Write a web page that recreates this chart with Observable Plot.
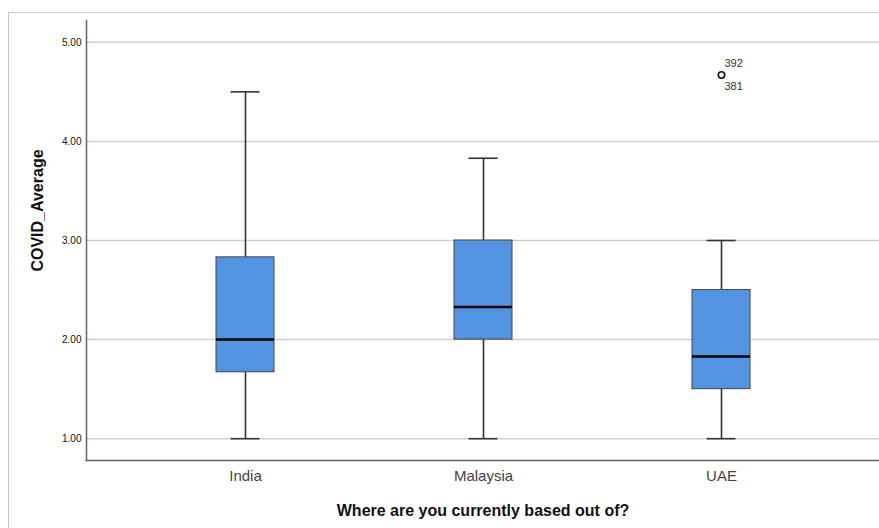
<!DOCTYPE html>
<html>
<head>
<meta charset="utf-8">
<script src="https://cdn.jsdelivr.net/npm/d3@7"></script>
<script src="https://cdn.jsdelivr.net/npm/@observablehq/plot@0.6"></script>
<style>
  html, body { margin: 0; padding: 0; background: #fff; overflow: hidden; }
  #wrap { position: relative; width: 879px; height: 528px; }
  #border { position: absolute; left: 8px; top: 12px; width: 900px; height: 600px; border: 1px solid #c8c8c8; box-sizing: border-box; }
  #chart { position: absolute; left: 0; top: 0; }
  svg text { font-family: "Liberation Sans", Arial, sans-serif; }
</style>
</head>
<body>
<div id="wrap"><div id="border"></div><div id="chart"></div></div>
<script>
const countries = ["India", "Malaysia", "UAE"];
const whiskerLow = [1.00, 1.00, 1.00];
const q1 = [1.67, 2.00, 1.50];
const median = [2.00, 2.33, 1.83];
const q3 = [2.83, 3.00, 2.50];
const whiskerHigh = [4.50, 3.83, 3.00];
const outlierCountry = ["UAE"];
const outlierValue = [4.67];
const outlierLabelTop = ["392"];
const outlierLabelBottom = ["381"];
const yTicks = [1, 2, 3, 4, 5];

const stats = countries.map((c, i) => ({
  country: c, lo: whiskerLow[i], q1: q1[i], med: median[i], q3: q3[i], hi: whiskerHigh[i]
}));
const outliers = outlierCountry.map((c, i) => ({
  country: c, value: outlierValue[i], top: outlierLabelTop[i], bottom: outlierLabelBottom[i]
}));

const chart = Plot.plot({
  width: 879,
  height: 528,
  marginLeft: 86,
  marginRight: 0,
  marginTop: 20,
  marginBottom: 68,
  style: {background: "transparent", fontFamily: "Liberation Sans, Arial, sans-serif"},
  x: {domain: countries, range: [125, 841], padding: 0, label: null},
  y: {domain: [0.78, 5.22], label: null},
  marks: [
    Plot.gridY(yTicks, {stroke: "#cfcfcf", strokeOpacity: 1, strokeWidth: 1.5}),
    Plot.axisY(yTicks, {tickFormat: d => d.toFixed(2), tickSize: 0, tickPadding: 5, fontSize: 10, fill: "#111", label: null}),
    Plot.axisX({tickSize: 0, tickPadding: 10, fontSize: 15, fill: "#444", label: null}),
    Plot.ruleX(stats, {x: "country", y1: "lo", y2: "q1", stroke: "#333", strokeWidth: 1.6}),
    Plot.ruleX(stats, {x: "country", y1: "q3", y2: "hi", stroke: "#333", strokeWidth: 1.6}),
    Plot.tickY(stats, {x: "country", y: "lo", stroke: "#333", strokeWidth: 1.6, insetLeft: 104.5, insetRight: 104.5}),
    Plot.tickY(stats, {x: "country", y: "hi", stroke: "#333", strokeWidth: 1.6, insetLeft: 104.5, insetRight: 104.5}),
    Plot.barY(stats, {x: "country", y1: "q1", y2: "q3", fill: "#5294e2", stroke: "#444", strokeWidth: 1, insetLeft: 90, insetRight: 90}),
    Plot.tickY(stats, {x: "country", y: "med", stroke: "#000", strokeWidth: 2.5, insetLeft: 90, insetRight: 90}),
    Plot.dot(outliers, {x: "country", y: "value", r: 3.2, stroke: "#111", strokeWidth: 1.6, fill: "#fff"}),
    Plot.text(outliers, {x: "country", y: "value", text: "top", dx: 3, dy: -12, textAnchor: "start", fontSize: 11, fill: "#333"}),
    Plot.text(outliers, {x: "country", y: "value", text: "bottom", dx: 3, dy: 11, textAnchor: "start", fontSize: 11, fill: "#333"}),
    Plot.frame({anchor: "left", stroke: "#666", strokeWidth: 1.5}),
    Plot.frame({anchor: "bottom", stroke: "#666", strokeWidth: 1.5}),
    Plot.text(["COVID_Average"], {frameAnchor: "left", dx: -49, dy: -30, rotate: -90, fontSize: 16, fontWeight: "bold", fill: "#111", textAnchor: "middle"}),
    Plot.text(["Where are you currently based out of?"], {frameAnchor: "bottom", dy: 55, fontSize: 16, fontWeight: "bold", fill: "#111"})
  ]
});
document.getElementById("chart").appendChild(chart);
</script>
</body>
</html>
